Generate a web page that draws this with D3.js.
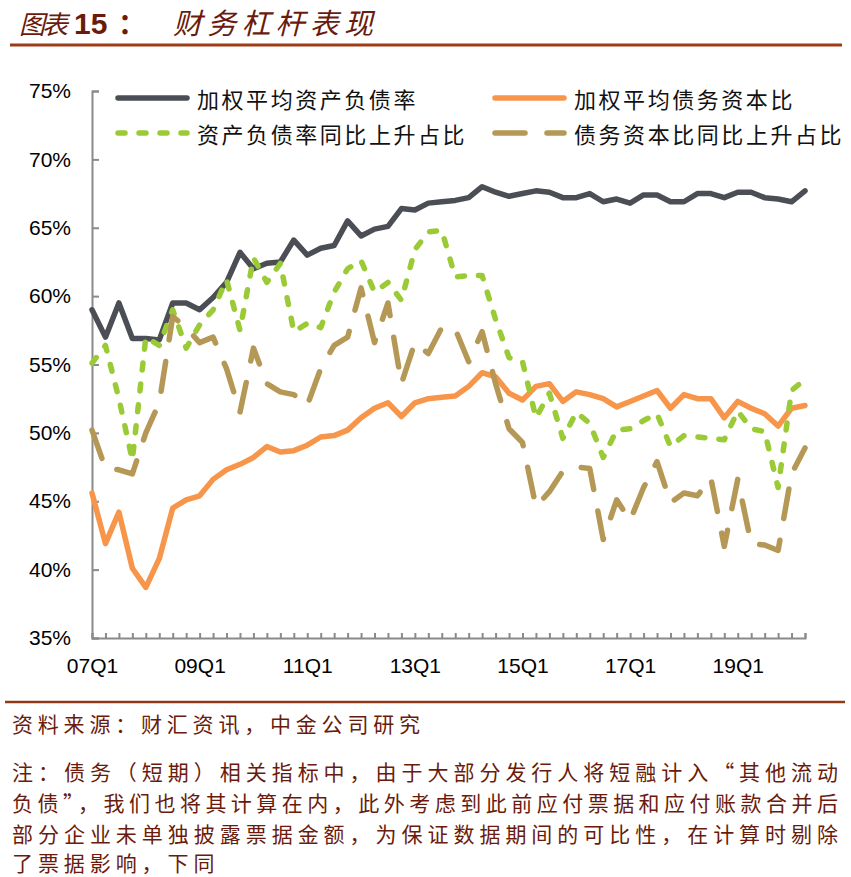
<!DOCTYPE html>
<html><head><meta charset="utf-8">
<script src="https://cdn.jsdelivr.net/npm/d3@7"></script>
<style>
html,body{margin:0;padding:0;background:#fff;}
svg{display:block;}
</style></head>
<body>
<svg id="chart" width="851" height="877"></svg>
<script>
const quarters = ["07Q1","07Q2","07Q3","07Q4","08Q1","08Q2","08Q3","08Q4","09Q1","09Q2","09Q3","09Q4",
"10Q1","10Q2","10Q3","10Q4","11Q1","11Q2","11Q3","11Q4","12Q1","12Q2","12Q3","12Q4",
"13Q1","13Q2","13Q3","13Q4","14Q1","14Q2","14Q3","14Q4","15Q1","15Q2","15Q3","15Q4",
"16Q1","16Q2","16Q3","16Q4","17Q1","17Q2","17Q3","17Q4","18Q1","18Q2","18Q3","18Q4",
"19Q1","19Q2","19Q3","19Q4","20Q1","20Q2"];
const tickLabels = ["07Q1","09Q1","11Q1","13Q1","15Q1","17Q1","19Q1"];
const yTicks = [35,40,45,50,55,60,65,70,75];

const seriesNames = ["加权平均资产负债率","加权平均债务资本比","资产负债率同比上升占比","债务资本比同比上升占比"];
const assetLiability = [59.0,57.0,59.5,56.9,56.9,56.8,59.5,59.5,59.0,59.9,61.0,63.2,62.0,62.4,62.5,64.1,63.0,63.5,63.7,65.5,64.4,64.9,65.1,66.4,66.3,66.8,66.9,67.0,67.2,68.0,67.6,67.3,67.5,67.7,67.6,67.2,67.2,67.5,66.9,67.1,66.8,67.4,67.4,66.9,66.9,67.5,67.5,67.2,67.6,67.6,67.2,67.1,66.9,67.7];
const debtCapital = [45.6,41.9,44.2,40.1,38.7,40.8,44.5,45.1,45.4,46.6,47.3,47.7,48.2,49.0,48.6,48.7,49.1,49.7,49.8,50.2,51.1,51.8,52.2,51.2,52.2,52.5,52.6,52.7,53.4,54.4,54.1,52.9,52.4,53.4,53.6,52.3,53.0,52.8,52.5,51.9,52.3,52.7,53.1,51.8,52.8,52.5,52.5,51.1,52.3,51.8,51.4,50.5,51.8,52.0];
const assetLiabilityUpShare = [55.1,56.4,52.5,48.0,57.0,56.4,59.0,56.2,57.9,59.0,61.2,57.5,62.8,61.0,62.4,57.4,58.0,57.7,60.3,62.0,62.6,60.3,61.0,59.7,63.4,64.7,64.8,61.4,61.5,61.5,58.3,55.5,55.2,51.1,52.9,49.6,51.5,50.7,48.2,50.2,50.3,50.9,51.4,49.0,49.8,49.7,49.6,49.5,51.6,50.3,50.1,46.0,53.1,53.9];
const debtCapitalUpShare = [50.2,47.4,47.3,47.0,50.0,52.2,58.5,57.7,56.6,57.0,54.7,51.5,56.2,53.6,53.0,52.8,52.0,54.7,56.4,57.0,60.6,56.6,59.5,53.6,56.6,55.8,57.7,57.6,55.2,57.4,53.6,50.3,49.3,44.6,45.7,47.2,47.5,47.4,42.2,45.1,43.6,46.0,47.9,44.9,45.6,45.4,46.7,41.7,46.6,41.9,41.8,41.4,47.0,48.9];

const titleText = ["图表","15","：","财务杠杆表现"];
const sourceText = "资料来源：财汇资讯，中金公司研究";
const noteLines = ["注：债务（短期）相关指标中，由于大部分发行人将短融计入“其他流动",
"负债”，我们也将其计算在内，此外考虑到此前应付票据和应付账款合并后",
"部分企业未单独披露票据金额，为保证数据期间的可比性，在计算时剔除",
"了票据影响，下同"];

const colors = ["#4b4f55","#f7964a","#9acb36","#b59856"];
const dashes = [null,null,"7,14","30,22"];
const seriesData = [assetLiability, debtCapital, assetLiabilityUpShare, debtCapitalUpShare];

const svg = d3.select("#chart");
const cjk = "'Noto Sans CJK SC','Noto Sans',sans-serif";
const textColor = "#6a1b0c";

// Title
const tg = svg.append("g");
tg.append("text").attr("x",19).attr("y",34).attr("font-family",cjk).attr("font-size",26)
  .attr("font-style","italic").attr("fill",textColor)
  .attr("textLength",49).attr("lengthAdjust","spacing").text(titleText[0]);
tg.append("text").attr("x",74).attr("y",34).attr("font-family","'Liberation Sans',Arial,sans-serif").attr("font-size",30)
  .attr("font-weight","bold").attr("fill",textColor).text(titleText[1]);
tg.append("text").attr("x",118).attr("y",34).attr("font-family",cjk).attr("font-size",28)
  .attr("font-weight","bold").attr("fill",textColor).text(titleText[2]);
tg.append("text").attr("x",173).attr("y",34).attr("font-family",cjk).attr("font-size",29)
  .attr("font-style","italic").attr("fill",textColor).attr("textLength",200).attr("lengthAdjust","spacing").text(titleText[3]);
svg.append("line").attr("x1",10).attr("x2",842).attr("y1",45).attr("y2",45)
  .attr("stroke","#9c3d17").attr("stroke-width",3);

// Scales
const x = d3.scalePoint().domain(quarters).range([92,805]);
const y = d3.scaleLinear().domain([35,75]).range([638,91]);

// Axes
const axisColor = "#8a8a8a";
const gy = svg.append("g").attr("transform","translate(92,0)")
  .call(d3.axisLeft(y).tickValues(yTicks).tickSize(-7).tickPadding(21).tickFormat(d=>d+"%"));
const gx = svg.append("g").attr("transform","translate(0,638)")
  .call(d3.axisBottom(x).tickSize(-5).tickPadding(20).tickFormat(d=>tickLabels.includes(d)?d:""));
[gx,gy].forEach(g=>{
  g.select(".domain").attr("stroke",axisColor).attr("stroke-width",2);
  g.selectAll(".tick line").attr("stroke",axisColor).attr("stroke-width",2);
  g.selectAll("text").attr("font-family","'Liberation Sans',Arial,sans-serif").attr("font-size",21).attr("fill","#000");
});

// Lines
const line = d3.line().x((d,i)=>x(quarters[i])).y(d=>y(d));
seriesData.forEach((s,k)=>{
  const p = svg.append("path").datum(s).attr("d",line).attr("fill","none")
    .attr("stroke",colors[k]).attr("stroke-width",5.5)
    .attr("stroke-linejoin","round").attr("stroke-linecap","round");
  if(dashes[k]) p.attr("stroke-dasharray",dashes[k]);
});

// Legend
const legendPos = [[115,98],[492,98],[115,133],[492,133]];
seriesNames.forEach((name,k)=>{
  const [lx,ly] = legendPos[k];
  const l = svg.append("line").attr("x1",lx+3).attr("x2",lx+72).attr("y1",ly).attr("y2",ly)
    .attr("stroke",colors[k]).attr("stroke-width",5.5).attr("stroke-linecap","round");
  if(dashes[k]) l.attr("stroke-dasharray",dashes[k]);
  svg.append("text").attr("x",lx+82).attr("y",ly).attr("dominant-baseline","central")
    .attr("font-family",cjk).attr("font-size",22).attr("fill","#111")
    .attr("textLength",name.length*24.6-3).attr("lengthAdjust","spacing").text(name);
});

// Footer
svg.append("line").attr("x1",5).attr("x2",845).attr("y1",702).attr("y2",702)
  .attr("stroke","#8e3a18").attr("stroke-width",2.5);
svg.append("text").attr("x",12).attr("y",723).attr("dominant-baseline","central")
  .attr("font-family",cjk).attr("font-size",21).attr("fill",textColor)
  .attr("textLength",408).attr("lengthAdjust","spacing").text(sourceText);
const noteY = [771,802,833,862];
noteLines.forEach((t,i)=>{
  const tx = svg.append("text").attr("x",12).attr("y",noteY[i]).attr("dominant-baseline","central")
    .attr("font-family",cjk).attr("font-size",21).attr("fill",textColor).text(t);
  if(i<3) tx.attr("textLength",826).attr("lengthAdjust","spacing");
  else tx.attr("textLength",t.length*25.8-4).attr("lengthAdjust","spacing");
});
</script>
</body></html>
